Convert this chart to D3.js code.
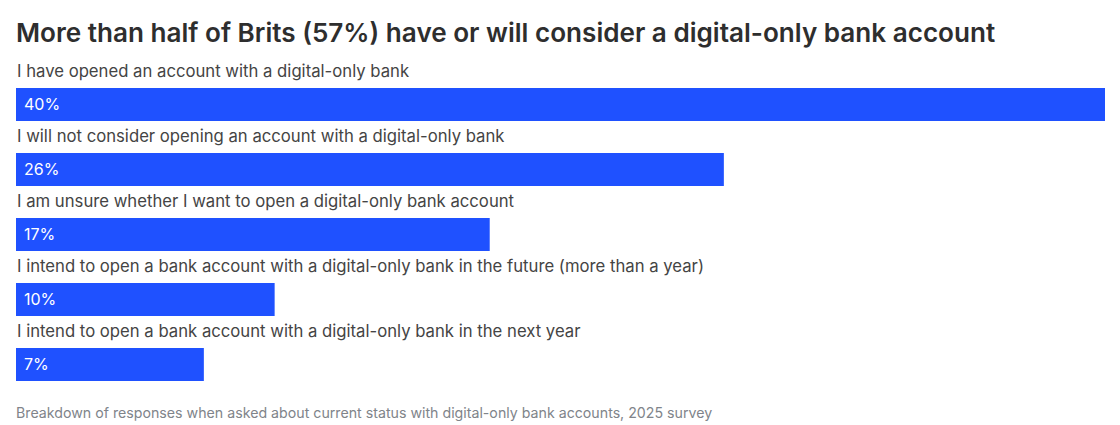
<!DOCTYPE html>
<html><head><meta charset="utf-8">
<script src="https://cdn.jsdelivr.net/npm/d3@7"></script>
<style>body{margin:0;background:#fff;} svg{display:block;}</style>
</head><body>
<svg id="chart" width="1120" height="425"></svg>
<script>
const categories = [
  "I have opened an account with a digital-only bank",
  "I will not consider opening an account with a digital-only bank",
  "I am unsure whether I want to open a digital-only bank account",
  "I intend to open a bank account with a digital-only bank in the future (more than a year)",
  "I intend to open a bank account with a digital-only bank in the next year"
];
const values = [40, 26.0, 17.4, 9.5, 6.9];
const valueLabels = ["40%", "26%", "17%", "10%", "7%"];
const title = "More than half of Brits (57%) have or will consider a digital-only bank account";
const footnote = "Breakdown of responses when asked about current status with digital-only bank accounts, 2025 survey";

const svg = d3.select("#chart");
const left = 16, right = 1105;
const x = d3.scaleLinear().domain([0, 40]).range([left, right]);
const y = d3.scaleBand().domain(d3.range(categories.length)).range([57, 382]).paddingInner(0).paddingOuter(0);
const font = "Inter, 'Noto Sans', sans-serif";

svg.append("text").attr("x", 16).attr("y", 42).text(title)
  .attr("font-family", font).attr("font-weight", 600).attr("font-size", 26.1).attr("fill", "#2e2e2e");

const g = svg.selectAll("g.row").data(categories).join("g").attr("class", "row")
  .attr("transform", (d, i) => `translate(0,${y(i)})`);

g.append("text").attr("x", 17).attr("y", 20).text(d => d)
  .attr("font-family", font).attr("font-size", 16.7).attr("fill", "#444");

g.append("rect").attr("x", x(0)).attr("y", 31).attr("height", 33)
  .attr("width", (d, i) => x(values[i]) - x(0)).attr("fill", "#1f51ff");

g.append("text").attr("x", 24).attr("y", 53).text((d, i) => valueLabels[i])
  .attr("font-family", font).attr("font-size", 16).attr("fill", "#fff");

svg.append("text").attr("x", 16).attr("y", 418).text(footnote)
  .attr("font-family", font).attr("font-size", 14.2).attr("fill", "#80848a");
</script>
</body></html>
